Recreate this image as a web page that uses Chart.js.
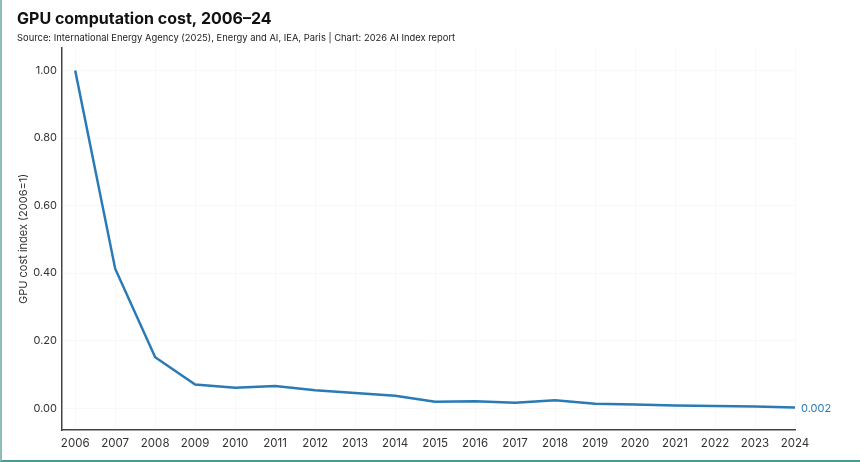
<!DOCTYPE html>
<html>
<head>
<meta charset="utf-8">
<script src="https://cdn.jsdelivr.net/npm/chart.js@4/dist/chart.umd.min.js"></script>
<style>
  html, body { margin: 0; padding: 0; background: #fff; }
  #wrap {
    width: 858px; height: 460px;
    border-left: 2px solid #8dbdb6;
    border-bottom: 2px solid #4f9a90;
    position: relative;
  }
</style>
</head>
<body>
<div id="wrap"><canvas id="chart" width="858" height="460"></canvas></div>
<script>
// data
var years = [2006, 2007, 2008, 2009, 2010, 2011, 2012, 2013, 2014, 2015,
             2016, 2017, 2018, 2019, 2020, 2021, 2022, 2023, 2024];
var costIndex = [1.00, 0.413, 0.151, 0.070, 0.061, 0.066, 0.053, 0.045, 0.037, 0.019,
                 0.021, 0.016, 0.024, 0.013, 0.011, 0.008, 0.007, 0.005, 0.002];
var yTicks = [0, 0.2, 0.4, 0.6, 0.8, 1.0];

var lineColor = '#2a7ab6';
var textColor = '#333333';
var fontFamily = 'Inter, "Noto Sans", sans-serif';

var points = years.map(function (y, i) { return { x: y, y: costIndex[i] }; });

// writes the last value next to the end of the line
var endLabel = {
  id: 'endLabel',
  afterDatasetsDraw: function (chart) {
    var meta = chart.getDatasetMeta(0);
    var last = meta.data[meta.data.length - 1];
    var ctx = chart.ctx;
    ctx.save();
    ctx.font = '11px ' + fontFamily;
    ctx.fillStyle = lineColor;
    ctx.textAlign = 'left';
    ctx.textBaseline = 'middle';
    ctx.fillText(String(costIndex[costIndex.length - 1]), last.x + 6, last.y + 1);
    ctx.restore();
  }
};

new Chart(document.getElementById('chart'), {
  type: 'line',
  data: {
    datasets: [{
      data: points,
      borderColor: lineColor,
      borderWidth: 2.5,
      pointRadius: 0,
      tension: 0,
      fill: false
    }]
  },
  options: {
    responsive: false,
    animation: false,
    layout: { padding: { left: 15, right: 65, top: 10, bottom: 4 } },
    plugins: {
      legend: { display: false },
      tooltip: { enabled: false },
      title: {
        display: true,
        text: 'GPU computation cost, 2006–24',
        align: 'start',
        color: '#111',
        font: { family: fontFamily, size: 16, weight: 'bold' },
        padding: { top: 0, bottom: 3 }
      },
      subtitle: {
        display: true,
        text: 'Source: International Energy Agency (2025), Energy and AI, IEA, Paris | Chart: 2026 AI Index report',
        align: 'start',
        color: '#222',
        font: { family: fontFamily, size: 9.4 },
        padding: { top: 0, bottom: 4 }
      }
    },
    scales: {
      x: {
        type: 'linear',
        min: 2005.67,
        max: 2024,
        afterBuildTicks: function (scale) {
          scale.ticks = years.map(function (v) { return { value: v }; });
        },
        ticks: {
          color: textColor,
          font: { family: fontFamily, size: 11.5 },
          padding: 6,
          maxRotation: 0,
          autoSkip: false,
          callback: function (v) { return String(v); }
        },
        grid: { color: '#f8f8f8', drawTicks: false },
        border: { color: '#444', width: 1.5 }
      },
      y: {
        min: -0.065,
        max: 1.068,
        afterBuildTicks: function (scale) {
          scale.ticks = yTicks.map(function (v) { return { value: v }; });
        },
        afterFit: function (scale) { scale.width = 45; },
        ticks: {
          color: textColor,
          font: { family: fontFamily, size: 11 },
          padding: 5,
          callback: function (v) { return v.toFixed(2); }
        },
        title: {
          display: true,
          text: 'GPU cost index (2006=1)',
          color: textColor,
          font: { family: fontFamily, size: 11 },
          padding: { top: 0, bottom: 2 }
        },
        grid: { color: '#f8f8f8', drawTicks: false },
        border: { color: '#444', width: 1.5 }
      }
    }
  },
  plugins: [endLabel]
});
</script>
</body>
</html>
